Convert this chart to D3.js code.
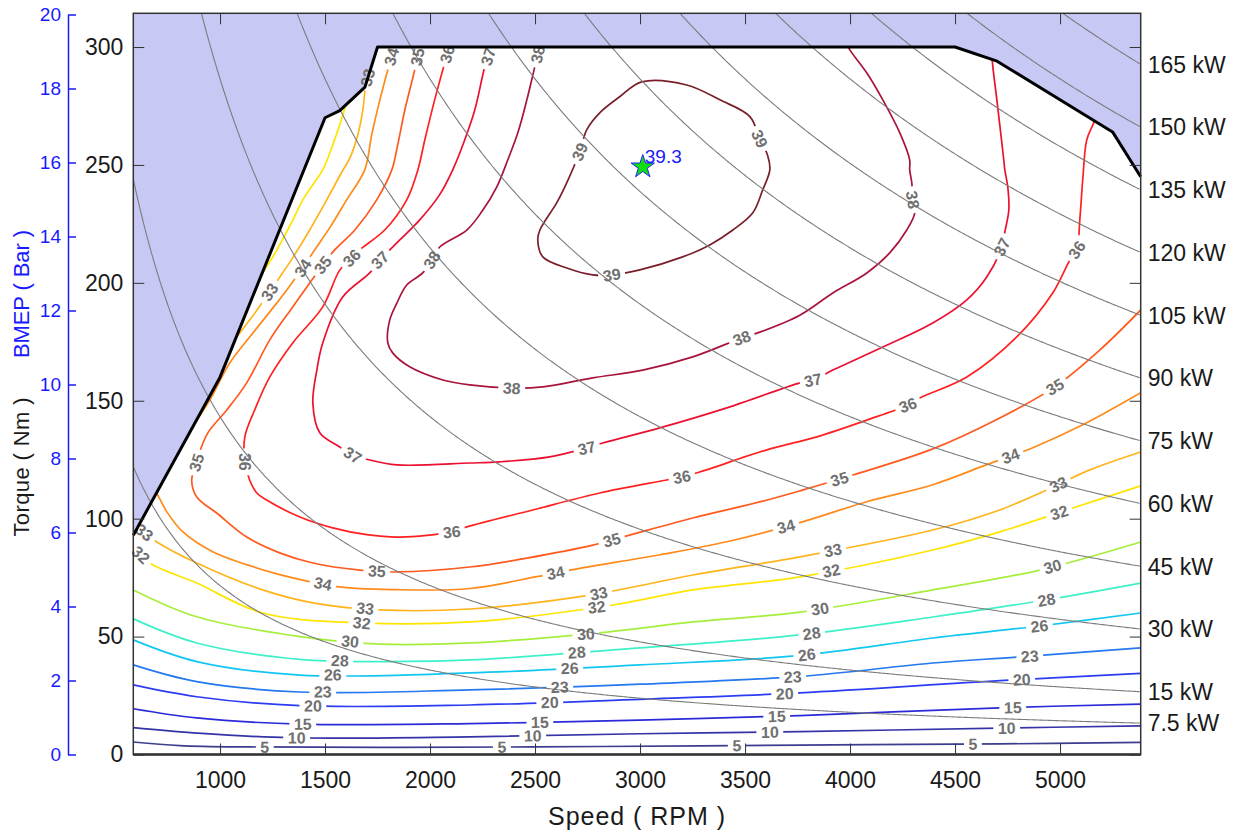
<!DOCTYPE html>
<html><head><meta charset="utf-8">
<script src="https://cdn.jsdelivr.net/npm/d3@7"></script>
<style>
body{margin:0;background:#fff;}
text{font-family:"Liberation Sans",Arial,Helvetica,sans-serif;}
</style></head>
<body><svg id="chart" width="1239" height="832"></svg>
<script>
// ---------- axes / reference data ----------
const speedDomain = [587, 5384];
const torqueDomain = [0, 314.3];
const bmepDomain = [0, 20];
const speedTicks = [1000,1500,2000,2500,3000,3500,4000,4500,5000];
const torqueTicks = [0,50,100,150,200,250,300];
const bmepTicks = [0,2,4,6,8,10,12,14,16,18,20];
const powerLevels = [7.5,15,30,45,60,75,90,105,120,135,150,165];

// full-load (WOT) torque curve
const wotSpeed  = [587, 1000, 1500, 1570, 1690, 1750, 4500, 4700, 5250, 5384];
const wotTorque = [93, 160, 270, 273, 283, 300, 300, 294, 264, 245];

// efficiency levels and colours
const levels = [5,10,15,20,23,26,28,30,32,33,34,35,36,37,38,39];
const levelColors = ["#3d3d8f","#3434a8","#2a2ad8","#2c3cf2","#2478f0","#12c6f2","#3ef0c8","#a6ee3c",
                     "#ffe400","#ffb41c","#ff8a1a","#ff5a1e","#ff2020","#ec1030","#a8143a","#7a1f2a"];

// contour lines [speed rpm, torque Nm]
const c5  = [[587,5.3],[808,3.8],[1141,3.2],[1856,3.0],[2808,3.4],[3761,4.0],[4713,4.5],[5384,5.1]];
const c10 = [[587,11.4],[889,9.1],[1332,7.1],[2189,7.5],[2999,8.8],[3761,9.7],[4713,11.2],[5384,12.1]];
const c15 = [[587,19.4],[889,15.5],[1380,12.9],[2189,13.1],[2999,14.6],[3761,16.5],[4713,19.8],[5384,21.4]];
const c20 = [[587,29.5],[889,24.5],[1380,20.7],[2189,21.0],[2999,23.4],[3761,26.1],[4713,31.3],[5384,34.4]];
const c23 = [[587,38.0],[889,30.9],[1380,26.5],[2189,27.4],[2999,29.8],[3761,33.1],[4394,38.8],[4794,41.3],[5384,45.2]];
const c26 = [[587,48.6],[889,39.4],[1380,33.7],[2189,34.6],[2999,38.0],[3761,42.0],[4394,49.4],[4903,54.5],[5384,60.0]];
const c28 = [[587,57.5],[889,47.3],[1380,40.3],[1761,39.4],[2189,40.1],[2999,45.2],[3761,50.7],[4394,58.3],[4903,65.1],[5384,72.7]];
const c30 = [[587,69.8],[889,58.4],[1380,50.0],[1761,46.8],[2189,47.3],[2794,51.5],[3251,56.2],[3761,60.4],[4394,69.8],[4903,78.2],[5384,90.1]];
const c32a = [[587,87.8],[665,81.2],[889,72.7],[1203,60.0],[1675,55.8],[2189,56.2],[2870,63.4],[3251,69.8],[3761,75.3],[4394,86.7],[4713,94.4],[5061,104.5],[5384,113.9]];
const c32b = [[1165,199.2],[1237,208.9],[1284,216.1],[1342,225.8],[1394,235.2],[1442,241.6],[1489,247.9],[1537,258.5],[1570,267.0],[1599,275.5]];
const c33a = [[587,97.8],[699,90.1],[889,81.2],[1203,69.8],[1442,64.3],[1761,61.3],[2189,61.7],[2761,67.6],[3251,76.1],[3761,83.8],[4394,95.2],[4713,103.7],[4937,112.2],[5142,120.7],[5384,128.3]];
const c33b = [[1713,291.1],[1694,283.9],[1680,273.3],[1656,262.7],[1618,252.9],[1580,247.0],[1508,235.2],[1427,222.4],[1346,210.6],[1275,201.2],[1199,191.4],[1141,184.2],[1037,172.1]];
const c34a = [[665,116.4],[703,110.1],[746,103.0],[822,94.5],[965,86.0],[1127,80.5],[1284,76.3],[1556,71.2],[1842,69.9],[2189,70.4],[2508,75.4],[2680,78.4],[3094,84.7],[3413,90.2],[3761,98.3],[4080,107.2],[4394,114.4],[4651,122.9],[4870,130.1],[5108,139.8],[5384,153.4]];
const c34b = [[1832,300.9],[1808,293.3],[1761,277.6],[1722,262.7],[1689,247.9],[1603,235.2],[1522,223.3],[1451,214.0],[1394,206.3],[1346,200.4],[1270,191.4],[1141,177.0],[1046,166.0],[951,150.3],[808,131.3]];
const c35 = [[1951,300.9],[1927,290.3],[1880,273.3],[1846,258.5],[1818,247.9],[1746,235.2],[1642,222.4],[1546,214.0],[1489,207.6],[1437,201.2],[1346,189.8],[1237,175.8],[1127,157.6],[1032,146.1],[942,136.4],[903,128.3],[880,121.6],[865,116.4],[889,109.2],[984,102.4],[1127,92.2],[1284,85.5],[1442,81.2],[1665,78.2],[1842,77.4],[2189,79.5],[2461,83.3],[2775,88.8],[2937,92.7],[3251,100.3],[3570,107.1],[3761,111.8],[4013,118.5],[4394,129.6],[4713,142.7],[4975,155.9],[5189,171.5],[5384,188.5]];
const c36 = [[2094,300.9],[2070,293.3],[2022,277.6],[1975,260.6],[1942,247.9],[1889,235.2],[1784,222.4],[1665,214.0],[1627,210.6],[1570,205.4],[1489,189.8],[1346,174.5],[1237,160.1],[1165,146.1],[1118,134.7],[1118,124.1],[1141,116.4],[1175,110.9],[1222,107.9],[1380,100.7],[1537,96.1],[1699,93.2],[1856,92.2],[2103,94.4],[2175,96.5],[2489,103.7],[2808,110.9],[3127,116.4],[3199,117.7],[3284,119.8],[3604,129.2],[3842,134.7],[4080,141.8],[4275,148.2],[4332,151.2],[4556,160.1],[4794,177.1],[4965,195.7],[5047,209.7],[5080,214.0],[5094,226.7],[5108,243.7],[5127,260.6],[5156,267.0],[5189,273.3]];
const c37 = [[2294,300.9],[2261,291.7],[2213,273.3],[2165,260.6],[2108,247.9],[2046,237.4],[1951,226.7],[1856,218.2],[1799,213.1],[1761,209.7],[1713,204.2],[1584,194.0],[1489,174.5],[1461,163.0],[1442,149.0],[1475,136.4],[1570,130.4],[1632,127.0],[1713,124.9],[1842,122.8],[2189,123.6],[2332,124.1],[2570,126.2],[2746,130.0],[2823,132.1],[3094,138.5],[3413,147.0],[3761,157.6],[3823,158.8],[3918,163.0],[4156,172.8],[4394,183.0],[4556,192.8],[4651,202.5],[4723,215.2],[4737,221.6],[4756,230.9],[4751,240.7],[4737,247.9],[4732,252.1],[4699,277.6],[4680,291.6],[4675,296.7]];
const c38 = [[2527,302.2],[2499,291.7],[2461,277.6],[2418,263.6],[2370,252.1],[2318,240.7],[2246,230.1],[2175,222.4],[2046,215.2],[2008,209.7],[1965,204.2],[1889,199.1],[1842,191.4],[1808,184.2],[1799,174.5],[1822,170.3],[1903,164.4],[2061,158.8],[2189,156.7],[2389,155.4],[2537,155.9],[2775,159.7],[3013,163.0],[3251,168.6],[3484,176.6],[3570,179.1],[3761,186.3],[3918,195.7],[4080,204.2],[4189,212.7],[4270,222.4],[4308,229.7],[4299,235.2],[4294,242.4],[4284,247.9],[4284,252.1],[4237,263.6],[4156,277.6],[4080,289.0],[3999,298.8],[3980,302.2]];
const c39 = [[3008,285.2],[3222,283.9],[3380,277.6],[3523,270.5],[3570,261.1],[3608,253.9],[3618,247.9],[3584,239.4],[3537,229.7],[3442,222.4],[3332,216.1],[3203,211.0],[2999,205.5],[2865,203.4],[2775,203.4],[2651,206.3],[2537,211.0],[2513,218.2],[2523,222.4],[2603,233.9],[2642,240.7],[2713,255.6],[2746,264.9],[2808,272.1],[2903,278.9]];

const contourLines = [
  {level:5,pts:c5},{level:10,pts:c10},{level:15,pts:c15},{level:20,pts:c20},{level:23,pts:c23},
  {level:26,pts:c26},{level:28,pts:c28},{level:30,pts:c30},{level:32,pts:c32a},{level:32,pts:c32b},
  {level:33,pts:c33a},{level:33,pts:c33b},{level:34,pts:c34a},{level:34,pts:c34b},{level:35,pts:c35},
  {level:36,pts:c36},{level:37,pts:c37},{level:38,pts:c38},{level:39,pts:c39,closed:true}
];

// contour labels [level, speed, torque]
const contourLabels = [
[5,1213,2.8],[5,2342,3.6],[5,3461,3.6],[5,4585,4.0],
[10,1365,7.0],[10,2489,7.8],[10,3618,9.1],[10,4746,10.8],
[15,1394,12.1],[15,2523,13.8],[15,3651,15.9],[15,4775,19.3],
[20,1442,19.7],[20,2570,22.3],[20,3689,25.2],[20,4818,31.2],
[23,1489,26.1],[23,2618,28.2],[23,3727,32.9],[23,4856,41.3],
[26,1537,32.9],[26,2665,36.3],[26,3794,42.2],[26,4903,53.6],
[28,1570,39.2],[28,2699,43.0],[28,3818,50.7],[28,4937,64.7],
[30,1618,46.9],[30,2742,51.1],[30,3856,62.1],[30,4965,79.5],
[32,618,84.2],[32,1675,55.3],[32,2794,61.7],[32,3913,77.0],[32,4999,101.6],
[33,641,94.4],[33,1689,60.4],[33,2803,68.5],[33,3918,86.7],[33,4989,115.1],[33,1237,196.1],[33,1704,287.0],
[34,1484,69.8],[34,2603,74.9],[34,3703,94.0],[34,4775,124.0],[34,1394,206.3],[34,1822,295.8],
[35,1489,207.6],[35,1942,295.8],[35,894,123.6],[35,1746,76.5],[35,2865,91.0],[35,3951,116.4],[35,4975,155.9],
[36,1627,210.6],[36,2094,296.7],[36,1118,124.1],[36,2103,94.4],[36,3199,117.7],[36,4275,148.2],[36,5080,214.0],
[37,1761,209.7],[37,2284,295.8],[37,1632,127.0],[37,2746,130.0],[37,3823,158.8],[37,4723,215.2],
[38,2008,209.7],[38,2523,296.7],[38,2389,155.4],[38,3484,176.6],[38,4299,235.2],
[39,2713,255.6],[39,2865,203.4],[39,3570,261.1]
];

// best-efficiency point
const bestSpeed = [3013];
const bestTorque = [249.2];
const bestValue = [39.3];

// ---------- drawing ----------
const W = 1239, H = 832;
const svg = d3.select("#chart");
const x = d3.scaleLinear().domain(speedDomain).range([133.3, 1140.7]);
const y = d3.scaleLinear().domain(torqueDomain).range([754.5, 13.3]);
const yb = d3.scaleLinear().domain(bmepDomain).range([754.5, 14.5]);
const [X0, X1] = x.range(), [Y0, Y1] = y.range();

const defs = svg.append("defs");
defs.append("clipPath").attr("id","plotClip").append("rect")
  .attr("x",X0).attr("y",Y1).attr("width",X1-X0).attr("height",Y0-Y1);

const wot = wotSpeed.map((s,i)=>[s, wotTorque[i]]);
const lin = d3.line().x(d=>x(d[0])).y(d=>y(d[1]));
const under = [[speedDomain[0],0], ...wot, [speedDomain[1],0]];
defs.append("clipPath").attr("id","wotClip").append("path").attr("d", lin(under)+"Z");

// shaded area above full load
const above = [[speedDomain[0],torqueDomain[1]], ...wot, [speedDomain[1],torqueDomain[1]]];
svg.append("path").attr("d", lin(above)+"Z").attr("fill","#c8c8f4").attr("stroke","none");

// label positions (snap to contour)
function snap(level, px, py){
  let best=null;
  contourLines.filter(c=>c.level===level).forEach(c=>{
    const p = c.pts.map(d=>[x(d[0]), y(d[1])]);
    const n = c.closed ? p.length : p.length-1;
    for(let i=0;i<n;i++){
      const a=p[i], b=p[(i+1)%p.length];
      const dx=b[0]-a[0], dy=b[1]-a[1], L2=dx*dx+dy*dy;
      let t = L2 ? ((px-a[0])*dx+(py-a[1])*dy)/L2 : 0;
      t=Math.max(0,Math.min(1,t));
      const qx=a[0]+t*dx, qy=a[1]+t*dy, d=(qx-px)**2+(qy-py)**2;
      if(!best||d<best.d) best={d,qx,qy,ang:Math.atan2(dy,dx)*180/Math.PI};
    }
  });
  let a=best.ang; if(a>90)a-=180; if(a<-90)a+=180;
  return {x:best.qx, y:best.qy, ang:a};
}
const labs = contourLabels.map(l=>{
  const s = snap(l[0], x(l[1]), y(l[2]));
  return {text:String(l[0]), x:s.x, y:s.y, ang:s.ang, w:String(l[0]).length*8.9+9};
});

const mask = defs.append("mask").attr("id","lblMask").attr("maskUnits","userSpaceOnUse")
  .attr("x",0).attr("y",0).attr("width",W).attr("height",H);
mask.append("rect").attr("width",W).attr("height",H).attr("fill","#fff");
mask.selectAll("rect.k").data(labs).join("rect").attr("class","k")
  .attr("x",d=>-d.w/2).attr("y",-7).attr("width",d=>d.w).attr("height",14)
  .attr("transform",d=>`translate(${d.x},${d.y}) rotate(${d.ang})`).attr("fill","#000");

// contour lines
const cl = d3.line().x(d=>x(d[0])).y(d=>y(d[1])).curve(d3.curveCatmullRom.alpha(0.5));
const clc = d3.line().x(d=>x(d[0])).y(d=>y(d[1])).curve(d3.curveCatmullRomClosed.alpha(0.5));
const gPlot = svg.append("g").attr("clip-path","url(#plotClip)");
const gC = gPlot.append("g").attr("clip-path","url(#wotClip)").append("g").attr("mask","url(#lblMask)");
gC.selectAll("path").data(contourLines).join("path")
  .attr("d",d=>d.closed?clc(d.pts):cl(d.pts))
  .attr("fill","none")
  .attr("stroke",d=>levelColors[levels.indexOf(d.level)])
  .attr("stroke-width",1.7);

// constant power curves
const rpmSamples = d3.range(speedDomain[0], speedDomain[1]+1, 8);
gPlot.selectAll("path.pw").data(powerLevels).join("path").attr("class","pw")
  .attr("d",P=>lin(rpmSamples.map(r=>[r, P*1000/(r*Math.PI/30)])))
  .attr("fill","none").attr("stroke","#7c7c7c").attr("stroke-width",1.1);

// contour label texts
svg.selectAll("text.cl").data(labs).join("text").attr("class","cl")
  .attr("transform",d=>`translate(${d.x},${d.y}) rotate(${d.ang})`)
  .attr("text-anchor","middle").attr("dy","0.36em")
  .attr("font-size",16).attr("font-weight","bold").attr("fill","#707070")
  .text(d=>d.text);

// WOT line
svg.append("path").attr("d",lin(wot)).attr("fill","none").attr("stroke","#000").attr("stroke-width",3)
  .attr("stroke-linejoin","round");

// best point
const bx = x(bestSpeed[0]), by = y(bestTorque[0]);
svg.append("path").attr("d",d3.symbol().type(d3.symbolStar).size(170)())
  .attr("transform",`translate(${bx},${by})`).attr("fill","#11dd11").attr("stroke","#2222ff").attr("stroke-width",1);
svg.append("text").attr("x",bx+2).attr("y",by-4).attr("font-size",19).attr("fill","#1a1aff").text(bestValue[0]);

// axes
const axisStyle = g=>{ g.select(".domain").remove(); g.selectAll("line").attr("stroke","#333"); g.selectAll("text").attr("fill","#1a1a1a").attr("font-size",23).attr("font-family",null);};
svg.append("g").attr("transform",`translate(0,${Y0})`)
  .call(d3.axisBottom(x).tickValues(speedTicks).tickFormat(d3.format("d")).tickSize(-11).tickPadding(17)).call(axisStyle);
svg.append("g").attr("transform",`translate(0,${Y1})`)
  .call(d3.axisTop(x).tickValues(speedTicks).tickSize(-11).tickFormat("")).call(axisStyle);
svg.append("g").attr("transform",`translate(${X0},0)`)
  .call(d3.axisLeft(y).tickValues(torqueTicks).tickFormat(d3.format("d")).tickSize(-11).tickPadding(10)).call(axisStyle);
svg.append("g").attr("transform",`translate(${X1},0)`)
  .call(d3.axisRight(y).tickValues(torqueTicks).tickSize(-11).tickFormat("")).call(axisStyle);
svg.append("rect").attr("x",X0).attr("y",Y1).attr("width",X1-X0).attr("height",Y0-Y1)
  .attr("fill","none").attr("stroke","#333").attr("stroke-width",1.5);
svg.append("line").attr("x1",X0).attr("x2",X1).attr("y1",Y0).attr("y2",Y0).attr("stroke","#333").attr("stroke-width",2.5);

// BMEP axis
const gb = svg.append("g").attr("transform","translate(68,0)")
  .call(d3.axisLeft(yb).tickValues(bmepTicks).tickSize(-8).tickSizeOuter(0).tickPadding(7));
gb.select(".domain").attr("stroke","#1a1aff").attr("stroke-width",1.5);
gb.selectAll("line").attr("stroke","#1a1aff").attr("stroke-width",1.5);
gb.selectAll("text").attr("fill","#1a1aff").attr("font-size",19).attr("font-family",null);

// kW labels on the right
svg.selectAll("text.kw").data(powerLevels).join("text").attr("class","kw")
  .attr("x",X1+7).attr("y",P=>y(P*1000/(speedDomain[1]*Math.PI/30))).attr("dy","0.36em")
  .attr("font-size",23).attr("fill","#1a1a1a").text(P=>`${P} kW`);

// axis titles
svg.append("text").attr("x",636.5).attr("y",825).attr("text-anchor","middle")
  .attr("font-size",25).attr("fill","#1a1a1a").attr("textLength",177).attr("lengthAdjust","spacing").text("Speed ( RPM )");
svg.append("text").attr("transform","translate(29,467) rotate(-90)").attr("text-anchor","middle")
  .attr("font-size",22).attr("fill","#1a1a1a").attr("textLength",139).attr("lengthAdjust","spacing").text("Torque ( Nm )");
svg.append("text").attr("transform","translate(29,294) rotate(-90)").attr("text-anchor","middle")
  .attr("font-size",22).attr("fill","#1a1aff").attr("textLength",128).attr("lengthAdjust","spacing").text("BMEP ( Bar )");
</script></body></html>
